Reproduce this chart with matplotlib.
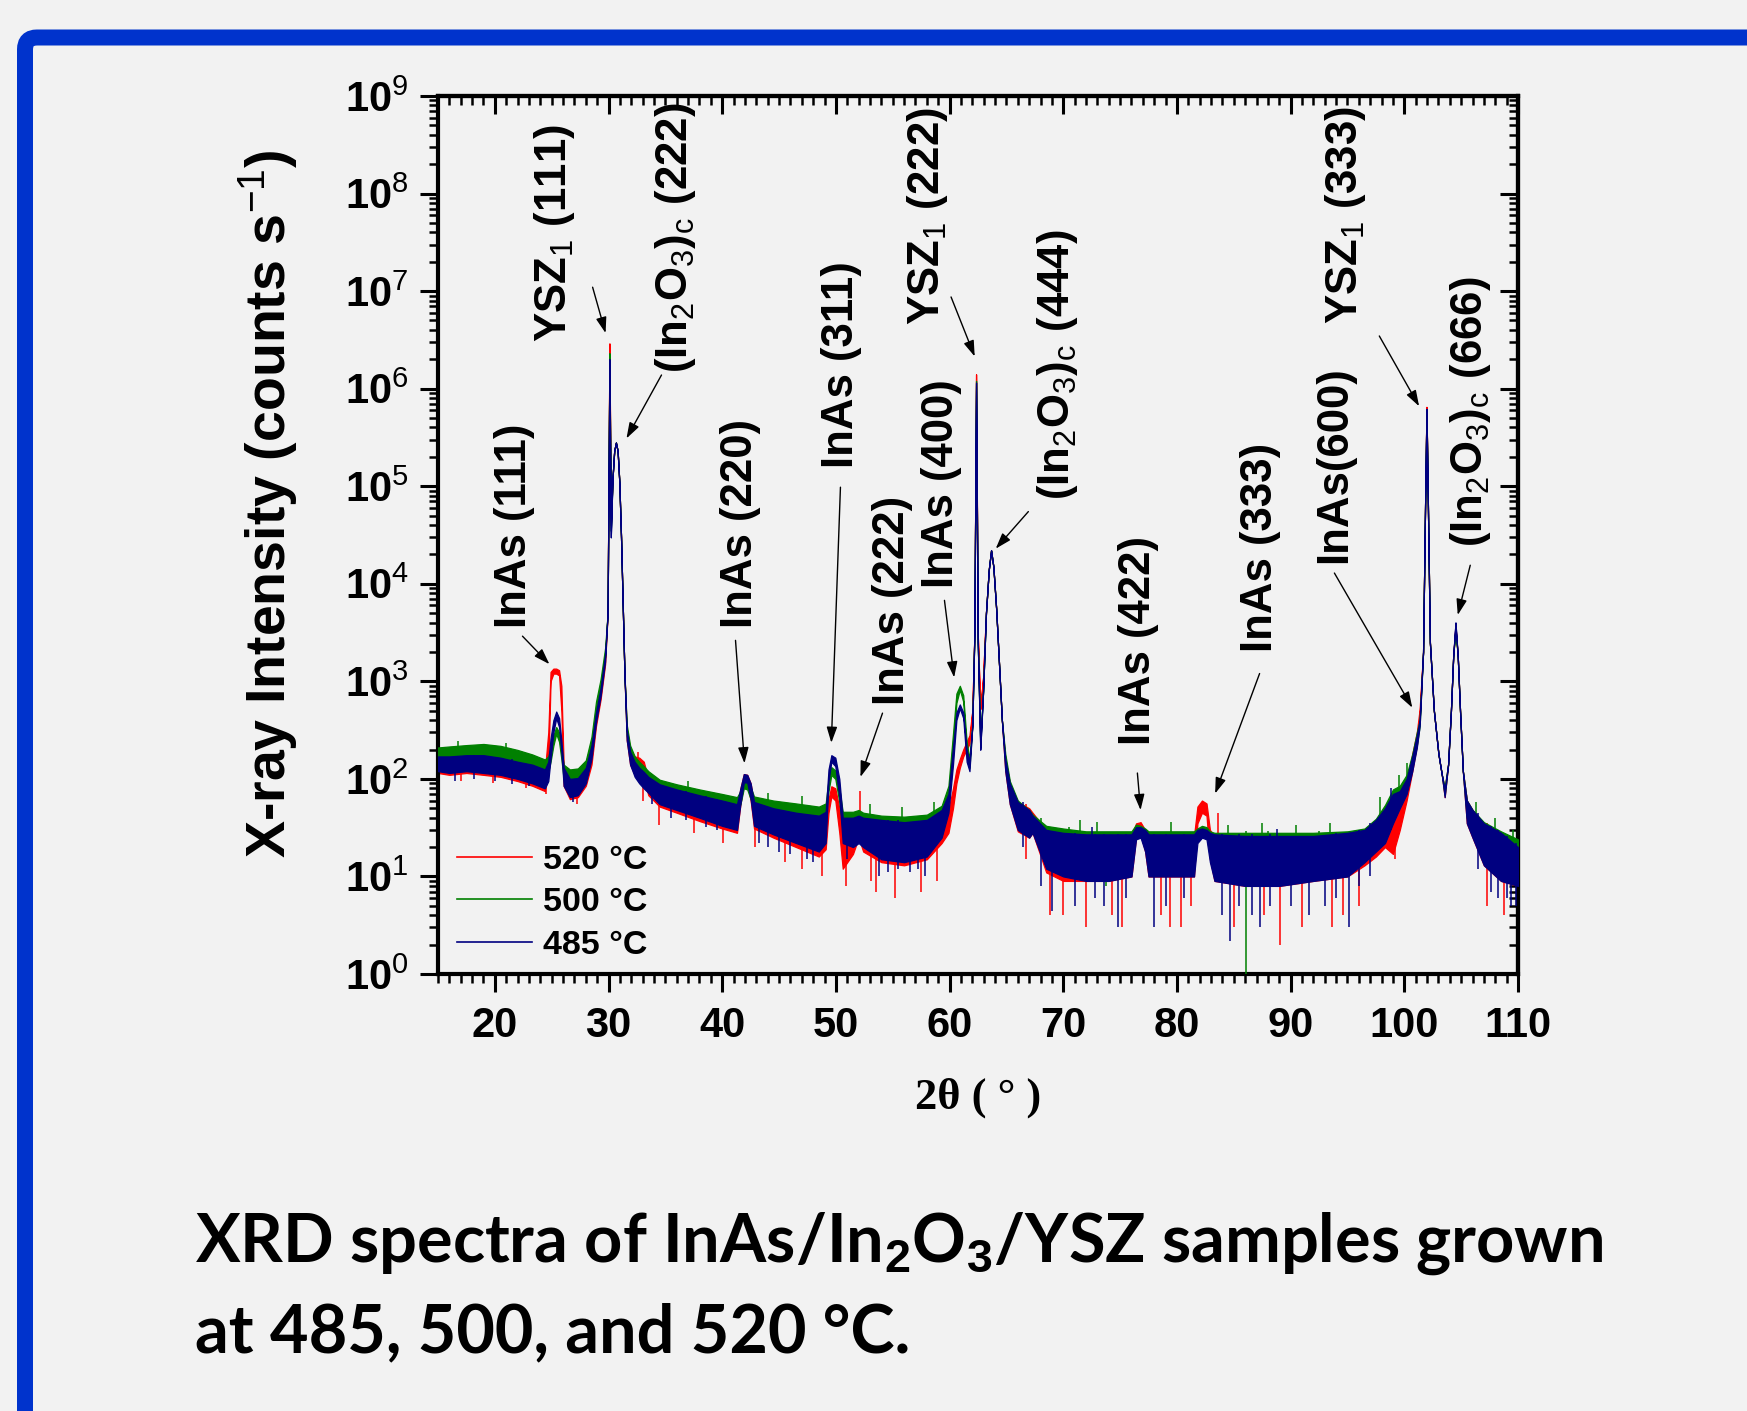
import numpy as np
import matplotlib
matplotlib.use("Agg")
import matplotlib.pyplot as plt
from matplotlib.ticker import MultipleLocator, LogLocator, NullFormatter
from matplotlib.lines import Line2D
from matplotlib.patches import FancyBboxPatch

plt.rcParams['font.family'] = ['Liberation Sans', 'DejaVu Sans']
plt.rcParams['mathtext.fontset'] = 'custom'
plt.rcParams['mathtext.rm'] = 'Liberation Sans'
plt.rcParams['mathtext.it'] = 'Liberation Sans:italic'
plt.rcParams['mathtext.bf'] = 'Liberation Sans:bold'

# ---------------- data ----------------
two_theta = [15.0, 16.0, 17.5, 19.0, 20.5, 22.0, 23.3, 24.4, 24.7, 24.9,
             25.15, 25.4, 25.65, 25.85, 26.05, 26.6, 27.3, 28.0, 28.5, 28.9,
             29.3, 29.7, 29.92, 30.08, 30.2, 30.35, 30.5, 30.65, 30.8, 30.95,
             31.1, 31.25, 31.4, 31.6, 31.9, 32.3, 32.7, 33.1, 33.5, 34.5,
             36.0, 38.0, 40.0, 41.3, 41.6, 41.9, 42.2, 42.5, 42.8, 44.5,
             46.5, 48.5, 49.1, 49.35, 49.6, 49.95, 50.3, 50.6, 51.5, 52.0,
             52.4, 54.0, 56.0, 58.0, 59.3, 59.9, 60.3, 60.6, 60.9, 61.2,
             61.5, 61.75, 62.0, 62.18, 62.33, 62.48, 62.7, 62.95, 63.2, 63.45,
             63.65, 63.85, 64.1, 64.35, 64.6, 64.9, 65.3, 66.0, 67.0, 67.3,
             68.5, 70.0, 72.0, 74.0, 76.0, 76.4, 76.8, 77.2, 77.5, 80.0,
             81.5, 81.8, 82.2, 82.6, 82.9, 83.3, 86.0, 89.0, 92.0, 95.0,
             96.5, 97.5, 98.3, 99.0, 99.6, 100.2, 100.7, 101.1, 101.35, 101.65,
             101.85, 101.95, 102.05, 102.25, 102.6, 103.0, 103.3, 103.55, 103.85, 104.1,
             104.3, 104.5, 104.7, 104.9, 105.15, 105.5, 106.0, 107.0, 108.5, 110.0]

i520_lo = [115, 110, 115, 110, 105, 95, 85, 75, 120, 1000,
           1200, 1200, 1150, 500, 85, 62, 65, 85, 140, 350,
           650, 1500, 5000, 2.9e6, 4e4, 1.2e5, 2.3e5, 2.8e5, 2.3e5, 1.1e5,
           3e4, 6000, 1200, 250, 140, 110, 115, 100, 68, 52,
           45, 37, 31, 28, 55, 90, 90, 60, 31, 25,
           20, 16, 19, 45, 66, 60, 28, 12, 17, 25,
           18, 14, 13, 15, 22, 28, 50, 90, 130, 170,
           200, 230, 500, 3000, 1.4e6, 3000, 520, 1100, 5000, 14000,
           22000, 15000, 5500, 1500, 400, 120, 55, 29, 25, 28,
           11, 9, 9, 9, 10, 25, 27, 18, 10, 10,
           10, 35, 45, 42, 15, 9, 8, 8, 9, 10,
           13, 16, 20, 17, 30, 60, 120, 220, 450, 2000,
           1e5, 6.5e5, 1e5, 2500, 500, 180, 110, 65, 140, 500,
           1800, 3700, 1800, 500, 120, 35, 25, 13, 9, 8]
i520_hi = [165, 165, 170, 170, 160, 150, 135, 120, 300, 1250,
           1350, 1350, 1300, 900, 140, 95, 100, 125, 200, 450,
           800, 1800, 5000, 2.9e6, 4e4, 1.2e5, 2.3e5, 2.8e5, 2.3e5, 1.1e5,
           3e4, 6000, 1200, 330, 200, 170, 165, 150, 100, 85,
           75, 64, 55, 50, 80, 112, 110, 90, 55, 45,
           40, 36, 38, 62, 84, 80, 50, 28, 32, 48,
           40, 32, 30, 32, 38, 48, 80, 125, 160, 200,
           240, 280, 500, 3000, 1.4e6, 3000, 520, 1100, 5000, 14000,
           22000, 15000, 5500, 1500, 400, 160, 90, 58, 50, 45,
           30, 28, 26, 26, 26, 35, 36, 30, 26, 25,
           26, 52, 60, 56, 30, 26, 25, 25, 25, 27,
           30, 35, 45, 40, 60, 90, 180, 300, 520, 2000,
           1e5, 6.5e5, 1e5, 2500, 500, 180, 110, 80, 140, 500,
           1800, 3700, 1800, 500, 120, 60, 48, 35, 28, 20]

i500_lo = [150, 160, 165, 170, 160, 145, 130, 115, 120, 150,
           220, 290, 240, 160, 100, 90, 92, 115, 190, 480,
           850, 1800, 5000, 2.3e6, 3.5e4, 1.2e5, 2.3e5, 2.8e5, 2.3e5, 1.1e5,
           3e4, 6000, 1200, 280, 170, 125, 110, 100, 90, 75,
           66, 58, 52, 48, 55, 80, 78, 62, 50, 45,
           40, 38, 40, 75, 110, 100, 58, 32, 34, 36,
           33, 30, 30, 32, 40, 60, 200, 600, 820, 620,
           180, 130, 350, 3000, 1.2e6, 2500, 230, 800, 5000, 14000,
           22000, 15000, 5500, 1500, 400, 140, 70, 40, 33, 30,
           25, 24, 22, 22, 22, 27, 26, 24, 22, 22,
           22, 24, 26, 26, 22, 21, 21, 21, 21, 22,
           23, 27, 32, 45, 55, 75, 130, 220, 350, 2000,
           1e5, 6.0e5, 1e5, 2500, 500, 180, 110, 68, 140, 500,
           1800, 3500, 1800, 500, 120, 40, 28, 18, 16, 12]
i500_hi = [210, 215, 222, 228, 218, 198, 178, 158, 170, 210,
           280, 340, 300, 210, 140, 125, 128, 155, 270, 620,
           1050, 2200, 5000, 2.3e6, 3.5e4, 1.2e5, 2.3e5, 2.8e5, 2.3e5, 1.1e5,
           3e4, 6000, 1200, 360, 220, 170, 150, 135, 120, 98,
           88, 78, 70, 65, 75, 100, 98, 82, 66, 60,
           56, 52, 56, 98, 132, 122, 80, 46, 46, 48,
           45, 42, 41, 43, 53, 85, 290, 750, 900, 720,
           240, 160, 350, 3000, 1.2e6, 2500, 230, 800, 5000, 14000,
           22000, 15000, 5500, 1500, 400, 180, 95, 60, 48, 43,
           33, 31, 29, 29, 29, 34, 33, 31, 29, 29,
           29, 31, 33, 32, 29, 28, 28, 28, 28, 29,
           31, 39, 54, 78, 85, 110, 180, 300, 400, 2000,
           1e5, 6.0e5, 1e5, 2500, 500, 180, 110, 82, 140, 500,
           1800, 3500, 1800, 500, 120, 60, 48, 36, 29, 24]

i485_lo = [120, 115, 120, 115, 110, 100, 90, 80, 95, 160,
           300, 420, 340, 190, 85, 65, 68, 90, 160, 380,
           700, 1600, 5000, 2.0e6, 3e4, 1.2e5, 2.3e5, 2.8e5, 2.3e5, 1.1e5,
           3e4, 6000, 1200, 250, 140, 105, 90, 80, 72, 55,
           48, 40, 33, 30, 55, 92, 92, 62, 33, 27,
           22, 18, 22, 95, 150, 135, 65, 22, 20, 22,
           20, 15, 14, 16, 25, 45, 140, 400, 530, 420,
           150, 120, 350, 3000, 1.15e6, 2500, 200, 800, 5000, 14000,
           22000, 15000, 5500, 1500, 400, 120, 55, 30, 25, 28,
           12, 10, 9, 9, 10, 24, 25, 18, 10, 10,
           10, 22, 25, 24, 14, 9, 8, 8, 9, 10,
           14, 18, 22, 35, 50, 70, 120, 210, 350, 2000,
           1e5, 6.2e5, 1e5, 2500, 500, 180, 110, 65, 140, 500,
           1800, 4000, 1800, 500, 120, 35, 25, 13, 9, 8]
i485_hi = [170, 170, 175, 175, 165, 150, 140, 125, 150, 260,
           400, 490, 420, 250, 130, 100, 102, 130, 220, 480,
           850, 1900, 5000, 2.0e6, 3e4, 1.2e5, 2.3e5, 2.8e5, 2.3e5, 1.1e5,
           3e4, 6000, 1200, 320, 190, 150, 130, 118, 105, 88,
           78, 68, 60, 55, 80, 112, 110, 90, 58, 50,
           45, 42, 46, 125, 175, 165, 100, 40, 40, 42,
           40, 38, 36, 38, 48, 70, 210, 480, 580, 480,
           200, 150, 350, 3000, 1.15e6, 2500, 200, 800, 5000, 14000,
           22000, 15000, 5500, 1500, 400, 160, 90, 58, 48, 42,
           30, 28, 27, 27, 27, 32, 32, 30, 27, 27,
           27, 30, 31, 30, 28, 27, 26, 26, 26, 28,
           30, 38, 50, 70, 75, 100, 170, 280, 400, 2000,
           1e5, 6.2e5, 1e5, 2500, 500, 180, 110, 78, 140, 500,
           1800, 4000, 1800, 500, 120, 60, 48, 35, 28, 20]

# isolated noise spikes (position, low end, high end)
spk520_x = [17.0, 19.8, 22.7, 24.5, 27.2, 32.6, 33.0, 34.4, 37.5, 40.1,
            42.9, 45.5, 47.0, 48.8, 50.9, 52.1, 53.1, 53.5, 55.2, 57.5,
            58.85, 66.7, 68.8, 70.0, 72.0, 74.3, 75.2, 78.6, 79.4, 80.4,
            81.2, 83.57, 85.0, 87.7, 89.1, 91.0, 93.6, 94.6, 96.0, 99.2,
            107.3, 108.8]
spk520_lo = [95, 90, 80, 70, 55, 140, 60, 34, 28, 22,
             20, 14, 12, 10, 8, 35, 9, 7, 6, 7,
             9, 15, 4, 4, 3, 4, 3, 4, 3, 3,
             5, 25, 3, 4, 2, 3, 3, 4, 5, 15,
             5, 4]
spk520_hi = [170, 165, 130, 120, 100, 190, 150, 85, 65, 55,
             55, 45, 40, 38, 28, 76, 32, 32, 30, 32,
             32, 55, 30, 28, 26, 26, 26, 26, 25, 25,
             26, 45, 25, 25, 25, 25, 25, 27, 30, 40,
             35, 28]
spk500_x = [16.8, 21.0, 37.0, 44.0, 47.0, 53.0, 55.8, 58.6, 68.0, 70.5,
            71.5, 73.0, 73.8, 79.5, 81.0, 84.5, 86.1, 87.5, 88.0, 90.5,
            91.0, 92.5, 93.5, 97.9, 99.5, 100.2, 106.3, 108.0, 109.6]
spk500_lo = [150, 150, 60, 45, 40, 30, 30, 33, 25, 12,
             23, 22, 8, 22, 10, 21, 0.9, 21, 11, 21,
             9, 10, 21, 30, 50, 80, 28, 17, 12]
spk500_hi = [245, 235, 95, 72, 66, 55, 52, 58, 40, 32,
             38, 36, 25, 36, 25, 34, 29, 35, 29, 34,
             25, 29, 35, 65, 110, 145, 58, 40, 30]
spk485_x = [16.5, 18.2, 20.0, 21.5, 23.0, 26.9, 33.8, 35.5, 36.8, 38.6,
            39.5, 43.2, 44.0, 45.0, 46.0, 47.5, 48.0, 51.0, 53.8, 54.6,
            55.5, 56.5, 57.2, 57.85, 66.5, 68.0, 69.05, 71.0, 72.5, 72.8,
            73.6, 74.8, 75.5, 78.0, 79.0, 80.6, 84.0, 84.65, 85.5, 86.6,
            87.3, 88.2, 88.8, 90.0, 91.6, 93.0, 94.0, 95.1, 96.0, 97.0,
            98.8, 106.5, 107.6, 108.2, 109.0, 109.4, 109.8]
spk485_lo = [95, 100, 95, 88, 85, 58, 55, 40, 38, 32,
             30, 22, 20, 18, 17, 15, 14, 15, 10, 11,
             12, 11, 12, 10, 20, 8, 4.4, 5, 9, 6,
             5, 3, 6, 3, 5, 6, 4, 2.2, 5, 4,
             3, 5, 8, 5, 4, 5, 6, 3, 8, 10,
             30, 12, 7, 6, 6, 5, 5]
spk485_hi = [170, 175, 165, 160, 140, 100, 100, 80, 75, 66,
             62, 55, 50, 45, 46, 42, 42, 40, 38, 38,
             38, 36, 37, 36, 58, 30, 28, 28, 32, 27,
             27, 27, 27, 27, 27, 27, 27, 26, 27, 27,
             26, 27, 31, 26, 26, 26, 28, 28, 30, 35,
             80, 45, 33, 30, 26, 20, 22]

series_labels = ['520 °C', '500 °C', '485 °C']
series_colors = ['#ff0000', '#008000', '#000080']

x_ticks = [20, 30, 40, 50, 60, 70, 80, 90, 100, 110]
y_ticks = [1e0, 1e1, 1e2, 1e3, 1e4, 1e5, 1e6, 1e7, 1e8, 1e9]
y_tick_labels = ['10$^{%d}$' % k for k in range(10)]

# peak labels: text, text anchor (2theta, I), arrow tail, arrow head
peak_labels = ['InAs (111)', 'YSZ$_{1}$ (111)', '(In$_{2}$O$_{3}$)$_{\\mathrm{c}}$ (222)',
               'InAs (220)', 'InAs (311)', 'InAs (222)', 'InAs (400)',
               'YSZ$_{1}$ (222)', '(In$_{2}$O$_{3}$)$_{\\mathrm{c}}$ (444)',
               'InAs (422)', 'InAs (333)', 'InAs(600)', 'YSZ$_{1}$ (333)',
               '(In$_{2}$O$_{3}$)$_{\\mathrm{c}}$ (666)']
label_pos = [(22.7, 10**3.545), (26.3, 10**6.475), (36.9, 10**6.158),
             (42.6, 10**3.545), (51.5, 10**5.184), (56.0, 10**2.756),
             (60.34, 10**3.955), (59.1, 10**6.65), (70.5, 10**4.857),
             (77.6, 10**2.346), (88.4, 10**3.3), (94.9, 10**4.21),
             (95.8, 10**6.66), (106.8, 10**4.375)]
arrow_tail = [(22.43, 10**3.463), (28.6, 10**7.04), (34.66, 10**6.14),
              (41.17, 10**3.42), (50.4, 10**4.99), (54.1, 10**2.674),
              (59.55, 10**3.83), (60.13, 10**6.94), (66.93, 10**4.74),
              (76.52, 10**2.06), (87.27, 10**3.08), (93.85, 10**4.11),
              (97.8, 10**6.54), (105.8, 10**4.19)]
arrow_head = [(24.8, 10**3.176), (29.74, 10**6.57), (31.58, 10**5.49),
              (41.96, 10**2.16), (49.6, 10**2.37), (52.16, 10**2.02),
              (60.4, 10**3.04), (62.21, 10**6.33), (64.06, 10**4.36),
              (76.8, 10**1.68), (83.36, 10**1.85), (100.7, 10**2.73),
              (101.3, 10**5.82), (104.7, 10**3.68)]

caption_lines = ['XRD spectra of InAs/In$_\\mathbf{2}$O$_\\mathbf{3}$/YSZ samples grown',
                 'at 485, 500, and 520 °C.']

# ---------------- figure ----------------
W, H = 1747, 1411
fig = plt.figure(figsize=(W / 100, H / 100), dpi=100)
fig.patch.set_facecolor('#f2f2f2')

# blue frame (rounded, running off right and bottom edges)
frame = FancyBboxPatch((25, -60), W + 200, H - 37.5 + 60,
                       boxstyle='round,pad=0,rounding_size=12',
                       transform=None, facecolor='none', edgecolor='#0033cc',
                       linewidth=16 * 72 / 100, zorder=0)
fig.patches.append(frame)

ax = fig.add_axes([438 / W, 1 - 974 / H, 1080 / W, 878 / H])
ax.set_facecolor('#f2f2f2')
ax.set_yscale('log')
ax.set_xlim(15, 110)
ax.set_ylim(1, 1e9)

lows = [i520_lo, i500_lo, i485_lo]
highs = [i520_hi, i500_hi, i485_hi]
spx = [spk520_x, spk500_x, spk485_x]
splo = [spk520_lo, spk500_lo, spk485_lo]
sphi = [spk520_hi, spk500_hi, spk485_hi]
for k in range(3):
    c = series_colors[k]
    ax.fill_between(two_theta, lows[k], highs[k], facecolor=c, edgecolor=c,
                    linewidth=0.9, zorder=2 + k)
    ax.vlines(spx[k], splo[k], sphi[k], colors=c, linewidth=1.1, zorder=2 + k)

# axes styling
for s in ax.spines.values():
    s.set_linewidth(3)
ax.set_xticks(x_ticks, labels=[str(v) for v in x_ticks], fontsize=30, fontweight='bold')
ax.set_yticks(y_ticks, labels=y_tick_labels, fontsize=30, fontweight='bold')
ax.xaxis.set_minor_locator(MultipleLocator(1))
ax.yaxis.set_minor_locator(LogLocator(base=10, subs=np.arange(2, 10), numticks=100))
ax.yaxis.set_minor_formatter(NullFormatter())
ax.tick_params(which='major', direction='out', length=13, width=2.2)
ax.tick_params(axis='x', which='major', pad=10)
ax.tick_params(axis='y', which='major', pad=8)
ax.tick_params(which='minor', direction='out', length=6.5, width=1.8)

secx = ax.secondary_xaxis('top')
secx.set_xticks(x_ticks)
secx.xaxis.set_minor_locator(MultipleLocator(1))
secx.tick_params(which='major', direction='in', length=13, width=2.2, labeltop=False)
secx.tick_params(which='minor', direction='in', length=6.5, width=1.8)
secx.spines['top'].set_linewidth(3)

secy = ax.secondary_yaxis('right')
secy.set_yticks(y_ticks)
secy.yaxis.set_minor_locator(LogLocator(base=10, subs=np.arange(2, 10), numticks=100))
secy.yaxis.set_minor_formatter(NullFormatter())
secy.tick_params(which='major', direction='in', length=13, width=2.2, labelright=False)
secy.tick_params(which='minor', direction='in', length=6.5, width=1.8)
secy.spines['right'].set_linewidth(3)

ax.set_ylabel('X-ray Intensity (counts s$^{-1}$)', fontsize=40, fontweight='bold')
ax.yaxis.set_label_coords(-0.128, 0.536)
ax.set_xlabel('2θ ( ° )', fontsize=32, fontweight='bold',
              family=['Liberation Serif', 'DejaVu Serif'])
ax.xaxis.set_label_coords(0.5, -0.118)

# legend
handles = [Line2D([], [], color=c, linewidth=1.2) for c in series_colors]
ax.legend(handles, series_labels, loc='lower left', bbox_to_anchor=(-0.004, -0.012),
          frameon=False, prop={'size': 24.5, 'weight': 'bold'},
          handlelength=2.2, handletextpad=0.3, labelspacing=0.34, borderpad=0.2)

# peak annotations
for txt, pos, tail, head in zip(peak_labels, label_pos, arrow_tail, arrow_head):
    ax.text(pos[0], pos[1], txt, rotation=90, rotation_mode='anchor',
            ha='left', va='baseline', fontsize=31.5, fontweight='bold', zorder=6)
    ax.annotate('', xy=head, xytext=tail,
                arrowprops=dict(arrowstyle='-|>,head_length=0.6,head_width=0.2',
                                color='black', lw=1.0, mutation_scale=16,
                                shrinkA=0, shrinkB=0), zorder=6)

# caption
fig.text(195 / W, (H - 1262) / H, caption_lines[0], fontsize=48, fontweight='bold',
         family=['Lato', 'DejaVu Sans'], va='baseline', ha='left')
fig.text(195 / W, (H - 1352) / H, caption_lines[1], fontsize=48, fontweight='bold',
         family=['Lato', 'DejaVu Sans'], va='baseline', ha='left')

fig.savefig('out.png', dpi=100, facecolor=fig.get_facecolor())
